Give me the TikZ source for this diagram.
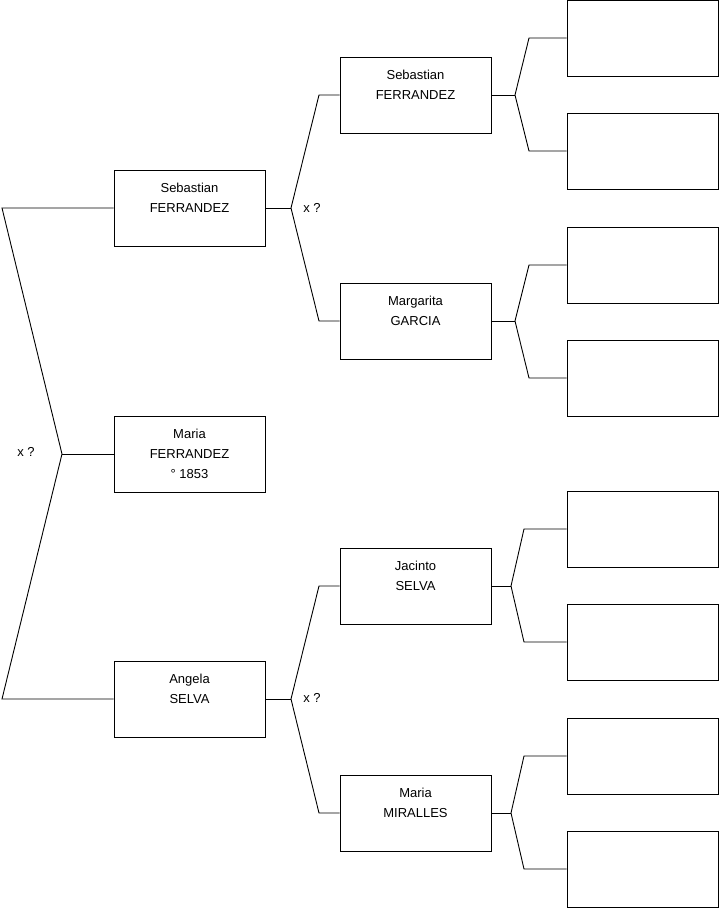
\documentclass[tikz,border=0pt]{standalone}
\usepackage{fontspec}
\setmainfont{Liberation Sans}
\begin{document}
\begin{tikzpicture}[x=1pt,y=-1pt,
  person/.style={draw=black, line width=0.9pt, minimum width=151pt, minimum height=76pt, inner sep=0pt, align=center, font=\fontsize{13}{20}\selectfont},
  link/.style={draw=black, line width=0.9pt},
  xlabel/.style={font=\fontsize{13}{20}\selectfont, inner sep=0pt}]
\useasboundingbox (0,0) rectangle (719,908);
% generation 1
\node[person] (s1) at (189.5,208) {Sebastian\\FERRANDEZ\\\mbox{}};
\node[person] (m1) at (189.5,454) {Maria\\FERRANDEZ\\° 1853};
\node[person] (a1) at (189.5,699) {Angela\\SELVA\\\mbox{}};
% generation 2
\node[person] (s2) at (415.5,95) {Sebastian\\FERRANDEZ\\\mbox{}};
\node[person] (g2) at (415.5,321) {Margarita\\GARCIA\\\mbox{}};
\node[person] (j2) at (415.5,586) {Jacinto\\SELVA\\\mbox{}};
\node[person] (r2) at (415.5,813) {Maria\\MIRALLES\\\mbox{}};
% generation 3
\node[person] (b1) at (642.5,38) {};
\node[person] (b2) at (642.5,151) {};
\node[person] (b3) at (642.5,265) {};
\node[person] (b4) at (642.5,378) {};
\node[person] (b5) at (642.5,529) {};
\node[person] (b6) at (642.5,642) {};
\node[person] (b7) at (642.5,756) {};
\node[person] (b8) at (642.5,869) {};
% labels
\node[xlabel] (x1) at (26,452) {x ?};
\node[xlabel] (x2) at (312,208) {x ?};
\node[xlabel] (x3) at (312,698) {x ?};
% junction coordinates
\coordinate (c1a) at (2,208);
\coordinate (c1j) at (62,454);
\coordinate (c1b) at (2,699);
\coordinate (c2j) at (291,208);
\coordinate (c2a) at (319,95);
\coordinate (c2b) at (319,321);
\coordinate (c3j) at (291,699);
\coordinate (c3a) at (319,586);
\coordinate (c3b) at (319,813);
\coordinate (d1j) at (515,95);
\coordinate (d1a) at (529,38);
\coordinate (d1b) at (529,151);
\coordinate (d2j) at (515,321);
\coordinate (d2a) at (529,265);
\coordinate (d2b) at (529,378);
\coordinate (d3j) at (511,586);
\coordinate (d3a) at (524,529);
\coordinate (d3b) at (524,642);
\coordinate (d4j) at (511,813);
\coordinate (d4a) at (524,756);
\coordinate (d4b) at (524,869);
% connectors
\draw[link] (s1.west) -- (c1a) -- (c1j) -- (c1b) -- (a1.west);
\draw[link] (c1j) -- (m1.west);
\draw[link] (s1.east) -- (c2j);
\draw[link] (s2.west) -- (c2a) -- (c2j) -- (c2b) -- (g2.west);
\draw[link] (a1.east) -- (c3j);
\draw[link] (j2.west) -- (c3a) -- (c3j) -- (c3b) -- (r2.west);
\draw[link] (s2.east) -- (d1j);
\draw[link] (b1.west) -- (d1a) -- (d1j) -- (d1b) -- (b2.west);
\draw[link] (g2.east) -- (d2j);
\draw[link] (b3.west) -- (d2a) -- (d2j) -- (d2b) -- (b4.west);
\draw[link] (j2.east) -- (d3j);
\draw[link] (b5.west) -- (d3a) -- (d3j) -- (d3b) -- (b6.west);
\draw[link] (r2.east) -- (d4j);
\draw[link] (b7.west) -- (d4a) -- (d4j) -- (d4b) -- (b8.west);
\end{tikzpicture}
\end{document}
